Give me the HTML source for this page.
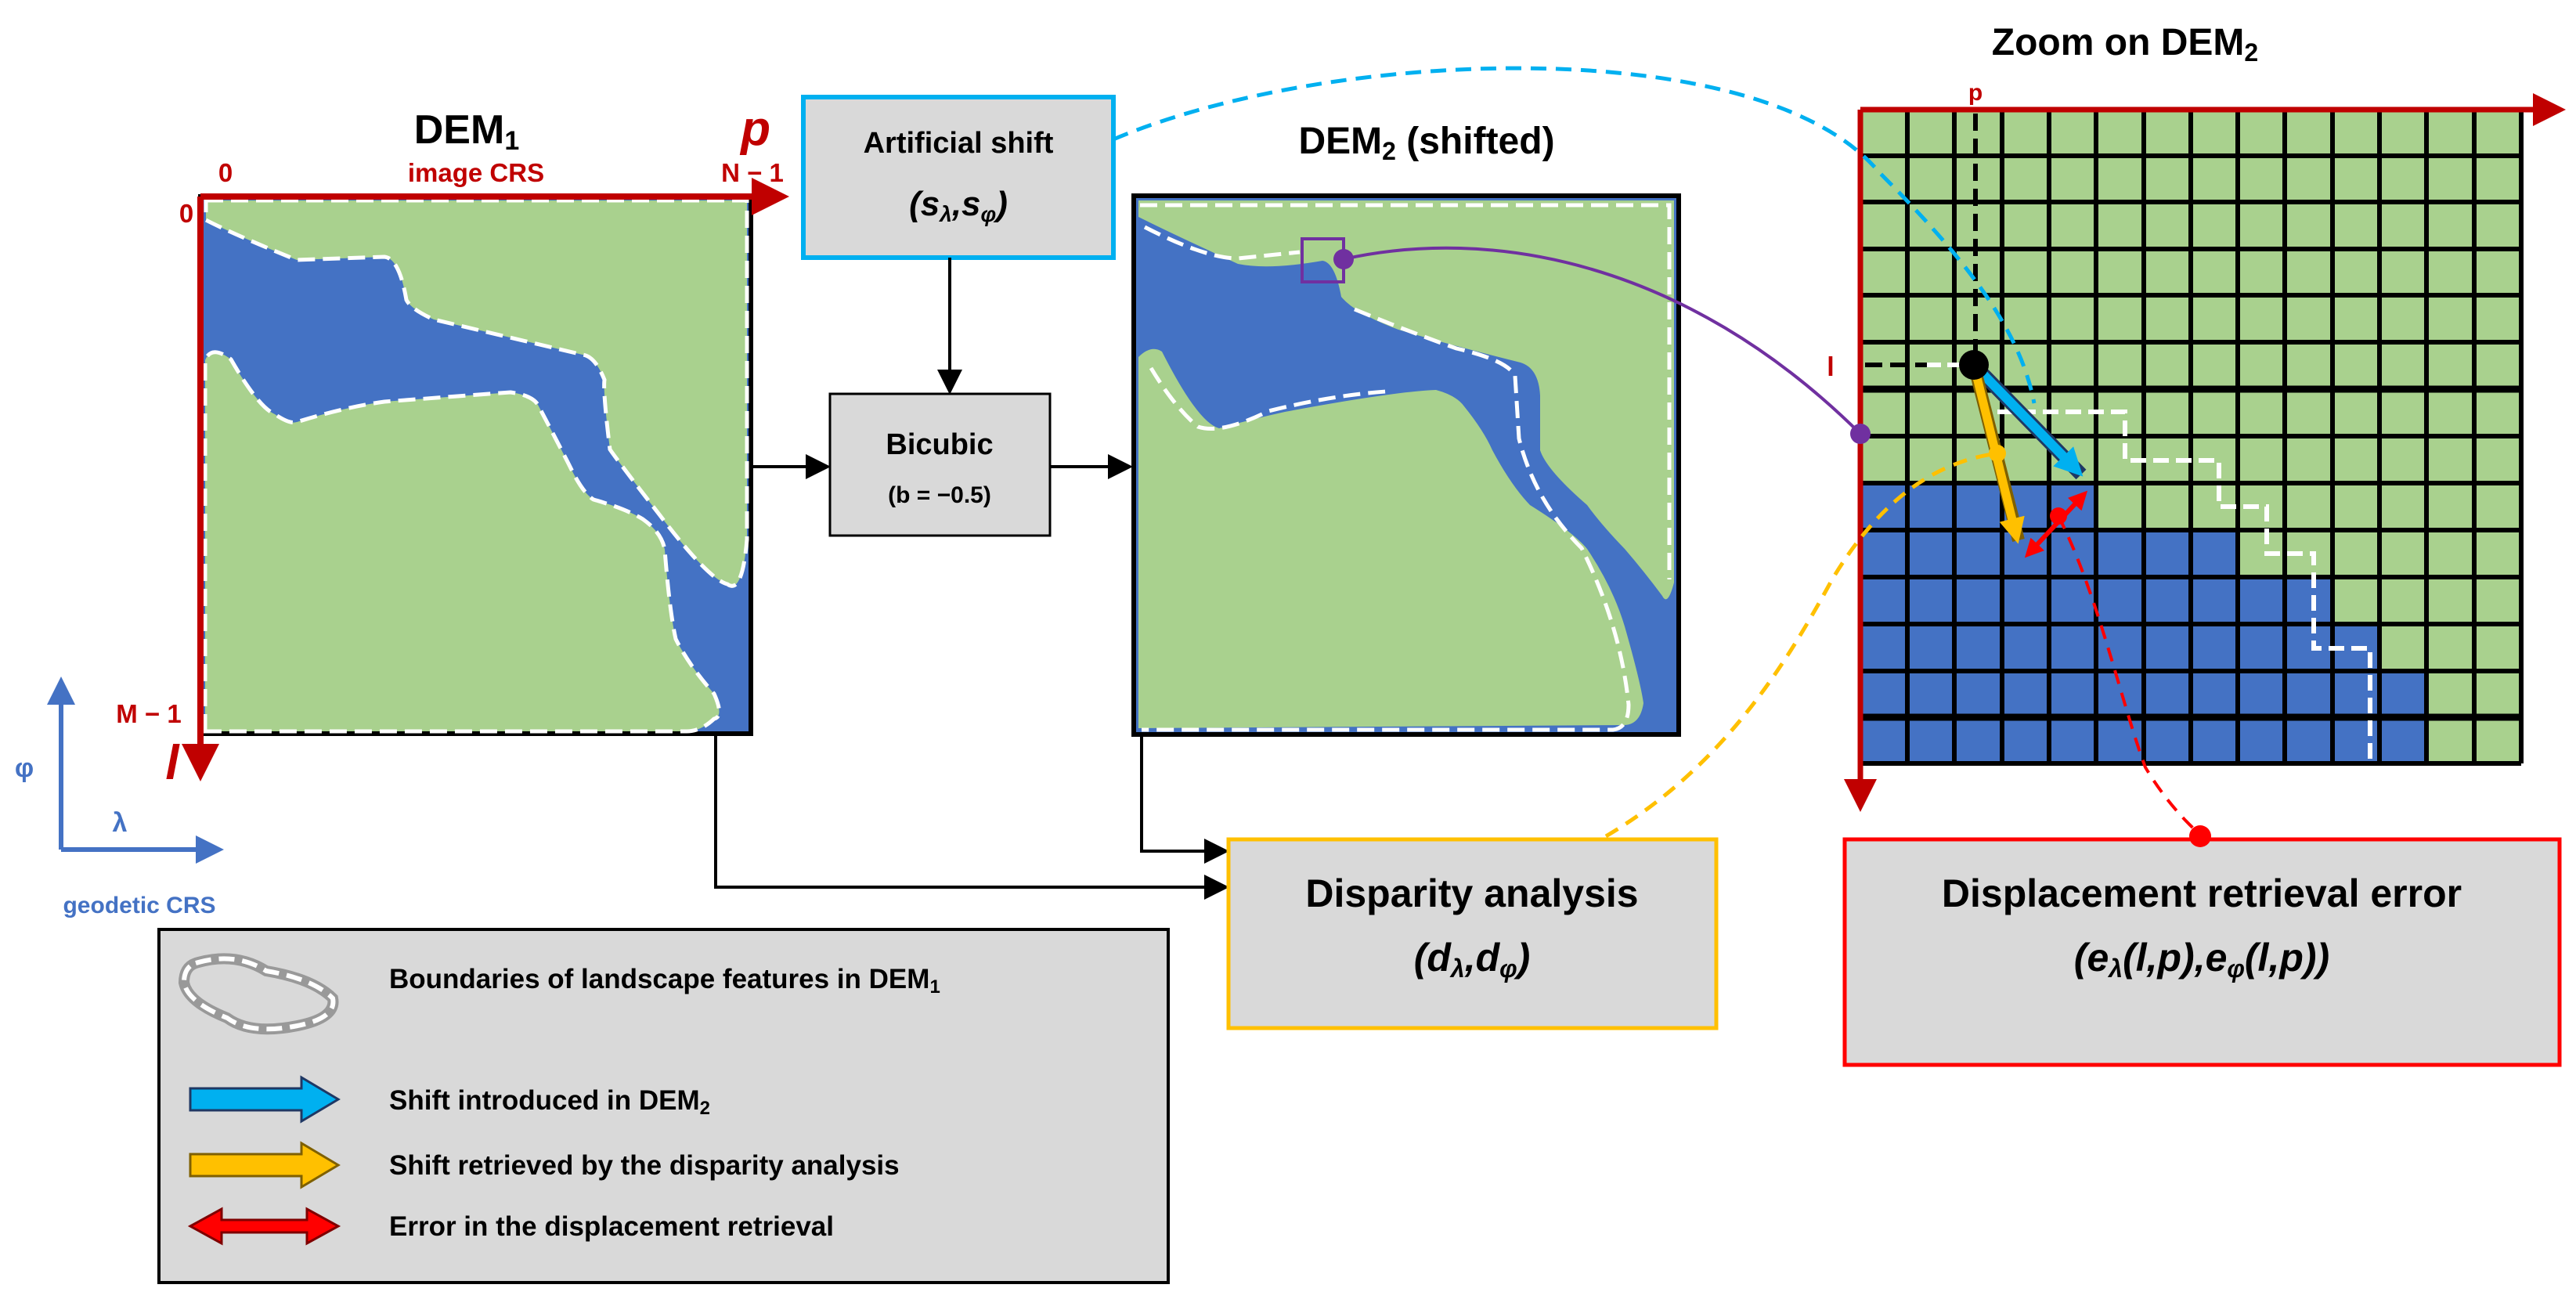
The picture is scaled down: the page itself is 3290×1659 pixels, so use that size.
<!DOCTYPE html>
<html><head><meta charset="utf-8"><style>
html,body{margin:0;padding:0;background:#fff}
svg{display:block}
text{font-family:"Liberation Sans",sans-serif;font-weight:bold}
</style></head><body>
<svg width="3290" height="1659" viewBox="0 0 3290 1659" xmlns="http://www.w3.org/2000/svg">
<defs>
<marker id="ab" markerWidth="8" markerHeight="8" refX="7" refY="4" orient="auto" markerUnits="strokeWidth"><path d="M0,0 L8,4 L0,8 z" fill="#000"/></marker>
<marker id="ar" markerWidth="6" markerHeight="6" refX="5" refY="3" orient="auto" markerUnits="strokeWidth"><path d="M0,0 L6,3 L0,6 z" fill="#c00000"/></marker>
<marker id="abl" markerWidth="6" markerHeight="6" refX="5" refY="3" orient="auto" markerUnits="strokeWidth"><path d="M0,0 L6,3 L0,6 z" fill="#4472c4"/></marker>
<marker id="mcy" markerWidth="3" markerHeight="3" refX="2" refY="1.5" orient="auto" markerUnits="strokeWidth"><path d="M0,0 L3,1.5 L0,3 z" fill="#00b0f0"/></marker>
<marker id="mor" markerWidth="3" markerHeight="3" refX="2" refY="1.5" orient="auto" markerUnits="strokeWidth"><path d="M0,0 L3,1.5 L0,3 z" fill="#ffc000"/></marker>
<marker id="mrd" markerWidth="4" markerHeight="4" refX="3" refY="2" orient="auto-start-reverse" markerUnits="strokeWidth"><path d="M0,0 L4,2 L0,4 z" fill="#ff0000"/></marker>
</defs>

<!-- DEM1 -->
<rect x="256" y="251" width="703" height="686" fill="#4472c4" stroke="#000" stroke-width="6"/>
<path d="M263,256 L954,256 L954,689 Q948,760 929,746 Q905,740 842,657 Q790,590 779,574 Q770,500 772,485 Q760,455 744,453 L554,408 Q525,395 519,383 Q510,330 491,328 L379,332 Q300,300 263,281 Z" fill="#a9d18e" stroke="#fff" stroke-width="5" stroke-dasharray="22,10"/>
<path d="M262,934 L262,460 Q270,440 295,459 Q330,520 351,529 Q370,542 379,539 Q440,520 491,513 L652,501 Q680,505 687,517 Q715,570 730,600 Q745,630 758,638 Q800,650 821,663 Q845,680 849,702 Q855,780 863,816 Q880,850 912,886 Q925,915 912,918 Q895,934 877,934 Z" fill="#a9d18e" stroke="#fff" stroke-width="5" stroke-dasharray="22,10"/>
<line x1="256" y1="251" x2="256" y2="990" stroke="#c00000" stroke-width="8" marker-end="url(#ar)"/>
<line x1="256" y1="251" x2="1000" y2="251" stroke="#c00000" stroke-width="8" marker-end="url(#ar)"/>
<text x="596" y="183" font-size="52" text-anchor="middle">DEM<tspan font-size="34" dy="8">1</tspan></text>
<text x="608" y="232" font-size="33" fill="#c00000" text-anchor="middle">image CRS</text>
<text x="288" y="232" font-size="33" fill="#c00000" text-anchor="middle">0</text>
<text x="961" y="232" font-size="33" fill="#c00000" text-anchor="middle">N − 1</text>
<text x="238" y="284" font-size="33" fill="#c00000" text-anchor="middle">0</text>
<text x="190" y="923" font-size="33" fill="#c00000" text-anchor="middle">M − 1</text>
<text x="965" y="185" font-size="62" fill="#c00000" font-style="italic" font-family="Liberation Serif" text-anchor="middle">p</text>
<text x="220" y="995" font-size="62" fill="#c00000" font-style="italic" font-family="Liberation Serif" text-anchor="middle">l</text>

<!-- geodetic -->
<line x1="78" y1="1085" x2="78" y2="870" stroke="#4472c4" stroke-width="6" marker-end="url(#abl)"/>
<line x1="78" y1="1085" x2="280" y2="1085" stroke="#4472c4" stroke-width="6" marker-end="url(#abl)"/>
<text x="31" y="992" font-size="34" fill="#4472c4" text-anchor="middle">φ</text>
<text x="153" y="1062" font-size="34" fill="#4472c4" text-anchor="middle">λ</text>
<text x="178" y="1166" font-size="30" fill="#4472c4" text-anchor="middle">geodetic CRS</text>

<!-- Artificial shift -->
<rect x="1026" y="124" width="396" height="205" fill="#d9d9d9" stroke="#00b0f0" stroke-width="6"/>
<text x="1224" y="195" font-size="38" text-anchor="middle">Artificial shift</text>
<text x="1224" y="275" font-size="44" text-anchor="middle" font-family="Liberation Serif" font-style="italic">(s<tspan font-size="28" dy="8">λ</tspan><tspan dy="-8">,s</tspan><tspan font-size="28" dy="8">φ</tspan><tspan dy="-8">)</tspan></text>
<line x1="1213" y1="329" x2="1213" y2="500" stroke="#000" stroke-width="4" marker-end="url(#ab)"/>
<!-- Bicubic -->
<rect x="1060" y="503" width="281" height="181" fill="#d9d9d9" stroke="#000" stroke-width="3"/>
<text x="1200" y="580" font-size="38" text-anchor="middle">Bicubic</text>
<text x="1200" y="642" font-size="30" text-anchor="middle">(b = −0.5)</text>
<line x1="959" y1="596" x2="1057" y2="596" stroke="#000" stroke-width="4" marker-end="url(#ab)"/>
<line x1="1341" y1="596" x2="1443" y2="596" stroke="#000" stroke-width="4" marker-end="url(#ab)"/>

<!-- DEM2 -->
<rect x="1448" y="250" width="696" height="688" fill="#4472c4" stroke="#000" stroke-width="6"/>
<path d="M1454,256 L2138,256 L2138,744 Q2130,775 2123,761 Q2100,730 2075,701 Q2045,670 2027,645 Q1975,600 1967,575 L1967,505 Q1965,470 1942,463 Q1850,440 1786,421 Q1730,400 1713,379 Q1705,335 1689,333 Q1620,345 1581,337 Q1500,300 1454,277 Z" fill="#a9d18e"/>
<path d="M1454,930 L1454,456 Q1470,440 1484,449 Q1530,540 1557,547 Q1600,535 1641,526 Q1780,500 1834,498 Q1860,505 1870,519 Q1895,550 1906,575 Q1930,620 1954,645 Q2010,680 2027,701 Q2060,750 2075,800 Q2095,870 2099,898 Q2095,925 2075,926 Z" fill="#a9d18e"/>
<path d="M1456,262 L2132,262 L2132,740 M1462,290 Q1540,330 1581,330 L1660,322 M1730,395 Q1790,420 1860,445 Q1925,460 1935,480 L1940,560 Q1960,640 2020,700 Q2070,800 2080,900 Q2080,930 2060,932 L1458,932 M1470,470 Q1500,520 1530,545 Q1560,555 1620,525 Q1700,505 1770,500" fill="none" stroke="#fff" stroke-width="5" stroke-dasharray="22,10"/>
<rect x="1663" y="305" width="53" height="55" fill="none" stroke="#7030a0" stroke-width="4"/>
<text x="1822" y="196" font-size="48" text-anchor="middle">DEM<tspan font-size="32" dy="8">2</tspan><tspan dy="-8"> (shifted)</tspan></text>

<!-- connectors to disparity -->
<polyline points="914,938 914,1133 1566,1133" fill="none" stroke="#000" stroke-width="4" marker-end="url(#ab)"/>
<polyline points="1458,938 1458,1087 1566,1087" fill="none" stroke="#000" stroke-width="4" marker-end="url(#ab)"/>
<rect x="1569" y="1072" width="623" height="241" fill="#d9d9d9" stroke="#ffc000" stroke-width="5"/>
<text x="1880" y="1158" font-size="50" text-anchor="middle">Disparity analysis</text>
<text x="1880" y="1240" font-size="50" text-anchor="middle" font-family="Liberation Serif" font-style="italic">(d<tspan font-size="32" dy="8">λ</tspan><tspan dy="-8">,d</tspan><tspan font-size="32" dy="8">φ</tspan><tspan dy="-8">)</tspan></text>

<rect x="2356" y="1072" width="913" height="288" fill="#d9d9d9" stroke="#ff0000" stroke-width="5"/>
<text x="2812" y="1158" font-size="50" text-anchor="middle">Displacement retrieval error</text>
<text x="2812" y="1240" font-size="50" text-anchor="middle" font-family="Liberation Serif" font-style="italic">(e<tspan font-size="32" dy="8">λ</tspan><tspan dy="-8">(l,p),e</tspan><tspan font-size="32" dy="8">φ</tspan><tspan dy="-8">(l,p))</tspan></text>

<!-- Legend -->
<rect x="203" y="1187" width="1289" height="451" fill="#d9d9d9" stroke="#000" stroke-width="4"/>
<path d="M250,1230 Q300,1215 340,1240 Q400,1250 425,1275 Q430,1300 380,1310 Q320,1322 290,1300 Q240,1280 235,1255 Q235,1235 250,1230 Z" fill="none" stroke="#999" stroke-width="14"/>
<path d="M250,1230 Q300,1215 340,1240 Q400,1250 425,1275 Q430,1300 380,1310 Q320,1322 290,1300 Q240,1280 235,1255 Q235,1235 250,1230 Z" fill="none" stroke="#fff" stroke-width="6" stroke-dasharray="20,10"/>
<text x="497" y="1262" font-size="35">Boundaries of landscape features in DEM<tspan font-size="24" dy="6">1</tspan></text>
<path d="M243,1390 L385,1390 L385,1376 L432,1404 L385,1432 L385,1418 L243,1418 Z" fill="#00b0f0" stroke="#1f3864" stroke-width="3"/>
<text x="497" y="1417" font-size="35">Shift introduced in DEM<tspan font-size="24" dy="6">2</tspan></text>
<path d="M243,1474 L385,1474 L385,1460 L432,1488 L385,1516 L385,1502 L243,1502 Z" fill="#ffc000" stroke="#7f6000" stroke-width="3"/>
<text x="497" y="1500" font-size="35">Shift retrieved by the disparity analysis</text>
<path d="M243,1566 L283,1544 L283,1558 L392,1558 L392,1544 L432,1566 L392,1588 L392,1574 L283,1574 L283,1588 Z" fill="#ff0000" stroke="#7f0000" stroke-width="3"/>
<text x="497" y="1578" font-size="35">Error in the displacement retrieval</text>

<!-- Grid -->
<rect x="2376" y="140" width="844" height="835" fill="#a9d18e"/>
<g fill="#4472c4">
<rect x="2376" y="617" width="301" height="358"/>
<rect x="2376" y="677" width="482" height="298"/>
<rect x="2376" y="737" width="602" height="238"/>
<rect x="2376" y="797" width="663" height="178"/>
<rect x="2376" y="857" width="724" height="118"/>
</g>
<g stroke="#000" stroke-width="6">
<line x1="2376" y1="140" x2="2376" y2="975"/><line x1="2436" y1="140" x2="2436" y2="975"/><line x1="2496" y1="140" x2="2496" y2="975"/><line x1="2557" y1="140" x2="2557" y2="975"/><line x1="2617" y1="140" x2="2617" y2="975"/><line x1="2677" y1="140" x2="2677" y2="975"/><line x1="2738" y1="140" x2="2738" y2="975"/><line x1="2798" y1="140" x2="2798" y2="975"/><line x1="2858" y1="140" x2="2858" y2="975"/><line x1="2918" y1="140" x2="2918" y2="975"/><line x1="2979" y1="140" x2="2979" y2="975"/><line x1="3039" y1="140" x2="3039" y2="975"/><line x1="3099" y1="140" x2="3099" y2="975"/><line x1="3160" y1="140" x2="3160" y2="975"/><line x1="3220" y1="140" x2="3220" y2="975"/>
<line x1="2376" y1="140" x2="3220" y2="140"/><line x1="2376" y1="199" x2="3220" y2="199"/><line x1="2376" y1="258" x2="3220" y2="258"/><line x1="2376" y1="318" x2="3220" y2="318"/><line x1="2376" y1="377" x2="3220" y2="377"/><line x1="2376" y1="437" x2="3220" y2="437"/><line x1="2376" y1="497" x2="3220" y2="497" stroke-width="9"/><line x1="2376" y1="557" x2="3220" y2="557"/><line x1="2376" y1="617" x2="3220" y2="617"/><line x1="2376" y1="677" x2="3220" y2="677"/><line x1="2376" y1="737" x2="3220" y2="737"/><line x1="2376" y1="797" x2="3220" y2="797"/><line x1="2376" y1="857" x2="3220" y2="857"/><line x1="2376" y1="916" x2="3220" y2="916" stroke-width="9"/><line x1="2376" y1="975" x2="3220" y2="975"/>
</g>
<line x1="2376" y1="140" x2="3270" y2="140" stroke="#c00000" stroke-width="7" marker-end="url(#ar)"/>
<line x1="2376" y1="140" x2="2376" y2="1030" stroke="#c00000" stroke-width="7" marker-end="url(#ar)"/>
<text x="2714" y="70" font-size="48" text-anchor="middle">Zoom on DEM<tspan font-size="32" dy="8">2</tspan></text>
<text x="2523" y="128" font-size="30" fill="#c00000" text-anchor="middle">p</text>
<text x="2338" y="480" font-size="34" fill="#c00000" text-anchor="middle">l</text>
<line x1="2523" y1="145" x2="2523" y2="466" stroke="#000" stroke-width="6" stroke-dasharray="22,10"/>
<line x1="2382" y1="466" x2="2461" y2="466" stroke="#000" stroke-width="6" stroke-dasharray="22,10"/>
<line x1="2461" y1="466" x2="2521" y2="466" stroke="#fff" stroke-width="6" stroke-dasharray="18,8"/>
<polyline points="2551,526 2714,526 2714,588 2834,588 2834,647 2895,647 2895,707 2955,707 2955,828 3027,828 3027,975" fill="none" stroke="#fff" stroke-width="6" stroke-dasharray="20,9"/>

<!-- connectors curves -->
<path d="M1422,178 C1700,60 2250,40 2400,220 C2510,330 2580,420 2598,515" fill="none" stroke="#00b0f0" stroke-width="5" stroke-dasharray="20,12"/>
<path d="M1716,331 C1900,290 2150,330 2376,554" fill="none" stroke="#7030a0" stroke-width="4"/>
<circle cx="1716" cy="331" r="13" fill="#7030a0"/>
<circle cx="2376" cy="554" r="13" fill="#7030a0"/>
<path d="M2051,1068 C2200,980 2280,850 2340,740 C2400,640 2470,590 2551,579" fill="none" stroke="#ffc000" stroke-width="5" stroke-dasharray="18,12"/>
<path d="M2629,659 C2680,760 2710,900 2740,980 Q2770,1030 2810,1066" fill="none" stroke="#ff0000" stroke-width="4" stroke-dasharray="18,12"/>
<circle cx="2810" cy="1068" r="14" fill="#ff0000"/>

<!-- zoom arrows -->
<line x1="2521" y1="466" x2="2658" y2="606" stroke="#1f3864" stroke-width="18"/>
<line x1="2521" y1="466" x2="2652" y2="600" stroke="#00b0f0" stroke-width="12" marker-end="url(#mcy)"/>
<line x1="2521" y1="466" x2="2578" y2="690" stroke="#7f6000" stroke-width="16"/>
<line x1="2521" y1="466" x2="2575" y2="684" stroke="#ffc000" stroke-width="11" marker-end="url(#mor)"/>
<line x1="2590" y1="708" x2="2662" y2="631" stroke="#ff0000" stroke-width="6" marker-start="url(#mrd)" marker-end="url(#mrd)"/>
<circle cx="2521" cy="466" r="19" fill="#000"/>
<circle cx="2551" cy="579" r="11" fill="#ffc000"/>
<circle cx="2629" cy="659" r="11" fill="#ff0000"/>
</svg>
</body></html>
